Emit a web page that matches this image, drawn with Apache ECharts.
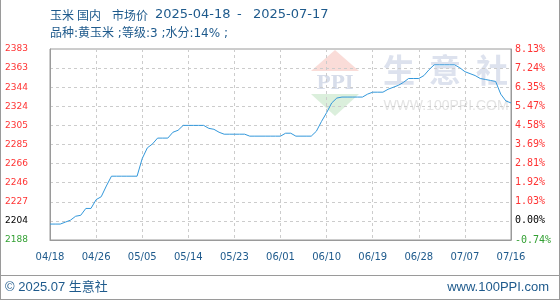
<!DOCTYPE html>
<html><head><meta charset="utf-8">
<script src="https://cdn.jsdelivr.net/npm/echarts@6/dist/echarts.min.js"></script>
<style>html,body{margin:0;padding:0;background:#fff}#c{width:560px;height:300px}</style>
</head><body><div id="c"></div>
<script>
const titleParts = ['玉米', '国内', '市场价', '2025-04-18', '-', '2025-07-17'];
const titleLine2 = '品种:黄玉米 ;等级:3 ;水分:14% ;';
const footerLeft = '© 2025.07 生意社';
const footerRight = 'www.100PPI.com';
const watermarkChars = ['生', '意', '社'];
const watermarkUrl = 'WWW.100PPI.COM';

const categories = [
  '04/18','04/19','04/20','04/21','04/22','04/23','04/24','04/25','04/26','04/27','04/28','04/29','04/30',
  '05/01','05/02','05/03','05/04','05/05','05/06','05/07','05/08','05/09','05/10','05/11','05/12','05/13','05/14','05/15','05/16','05/17','05/18','05/19','05/20','05/21','05/22','05/23','05/24','05/25','05/26','05/27','05/28','05/29','05/30','05/31',
  '06/01','06/02','06/03','06/04','06/05','06/06','06/07','06/08','06/09','06/10','06/11','06/12','06/13','06/14','06/15','06/16','06/17','06/18','06/19','06/20','06/21','06/22','06/23','06/24','06/25','06/26','06/27','06/28','06/29','06/30',
  '07/01','07/02','07/03','07/04','07/05','07/06','07/07','07/08','07/09','07/10','07/11','07/12','07/13','07/14','07/15','07/16','07/17'
];
const prices = [
  2204,2204,2204,2206,2208,2212,2213,2220,2220,2229,
  2232,2243,2253,2253,2253,2253,2253,2253,2271,2282,
  2286,2292,2292,2292,2298,2300,2305,2305,2305,2305,
  2305,2302,2301,2298,2296,2296,2296,2296,2296,2294,
  2294,2294,2294,2294,2294,2294,2297,2297,2294,2294,
  2294,2294,2299,2309,2318,2328,2333,2334,2334,2334,
  2334,2334,2337,2339,2339,2339,2342,2344,2346,2349,
  2353,2353,2353,2356,2362,2367,2367,2367,2367,2367,
  2364,2360,2358,2356,2353,2352,2351,2350,2337,2330,
  2328
];
const xTickLabels = ['04/18','04/26','05/05','05/14','05/23','06/01','06/10','06/19','06/28','07/07','07/16'];
const yTickValues = [2187.7, 2207.25, 2226.8, 2246.35, 2265.9, 2285.45, 2305.0, 2324.55, 2344.1, 2363.65, 2383.2];
const leftTickLabels = ['2188','2204','2227','2246','2266','2285','2305','2324','2344','2363','2383'];
const rightTickLabels = ['-0.74%','0.00%','1.03%','1.92%','2.81%','3.69%','4.58%','5.47%','6.35%','7.24%','8.13%'];

const frame = '#9a9a9a';
const gridColor = '#cccccc';
const blueText = '#1e5a8c';

function tickIndex(v) {
  let best = 0, d = Infinity;
  yTickValues.forEach((t, i) => { const e = Math.abs(t - v); if (e < d) { d = e; best = i; } });
  return best;
}
function styleKey(i) { return i === 0 ? 'g' : (i === 1 ? 'k' : 'r'); }

const chart = echarts.init(document.getElementById('c'), null, {renderer: 'canvas'});
const leftFont = {fontFamily: 'DejaVu Sans', fontSize: 9};
const rightFont = {fontFamily: 'DejaVu Sans Mono', fontSize: 10};
const cjkFont = '12px "Noto Sans CJK SC"';
const latinFont = '13px "DejaVu Sans"';
const titleX = [50, 77, 112, 155, 237, 253];
const titleGraphics = titleParts.map((t, i) => ({
  type: 'text', x: titleX[i], y: 15,
  style: {text: t, fill: blueText, font: i < 3 ? cjkFont : latinFont, textVerticalAlign: 'middle'}
}));
chart.setOption({
  animation: false,
  backgroundColor: '#ffffff',
  grid: {left: 50, right: 49, top: 49, bottom: 60, show: true, borderColor: frame, borderWidth: 1, backgroundColor: 'transparent'},
  xAxis: {
    type: 'category', data: categories, boundaryGap: false,
    axisLine: {lineStyle: {color: frame, width: 1}},
    axisTick: {show: false},
    axisLabel: {interval: 8, margin: 12, color: blueText, fontFamily: 'DejaVu Sans', fontSize: 10,
      formatter: (v, i) => (i % 9 === 0 ? xTickLabels[i / 9] : '')},
    splitLine: {show: true, interval: 8, lineStyle: {color: gridColor, type: [3, 3], width: 1}}
  },
  yAxis: [{
    type: 'value', min: yTickValues[0], max: yTickValues[yTickValues.length - 1], position: 'left',
    axisLine: {show: true, lineStyle: {color: frame}},
    axisTick: {show: false, customValues: yTickValues},
    axisLabel: {customValues: yTickValues, margin: 22, ...leftFont,
      formatter: v => { const i = tickIndex(v); return '{' + styleKey(i) + '|' + leftTickLabels[i] + '}'; },
      rich: {r: {color: '#ff3333', ...leftFont}, k: {color: '#000000', ...leftFont}, g: {color: '#33a033', ...leftFont}}},
    splitLine: {show: true, lineStyle: {color: gridColor, type: [3, 3], width: 1}}
  }, {
    type: 'value', min: yTickValues[0], max: yTickValues[yTickValues.length - 1], position: 'right',
    axisLine: {show: true, lineStyle: {color: frame}},
    axisTick: {show: false, customValues: yTickValues},
    axisLabel: {customValues: yTickValues, margin: 4, ...rightFont,
      formatter: v => { const i = tickIndex(v); return '{' + styleKey(i) + '|' + rightTickLabels[i] + '}'; },
      rich: {r: {color: '#ff3333', ...rightFont}, k: {color: '#000000', ...rightFont}, g: {color: '#33a033', ...rightFont}}},
    splitLine: {show: false}
  }],
  series: [{
    type: 'line', data: prices, yAxisIndex: 0, showSymbol: false, symbol: 'none', smooth: false, silent: true,
    lineStyle: {color: '#3398db', width: 1}, z: 5
  }],
  graphic: [
    {type: 'polygon', z: -10, silent: true, shape: {points: [[311, 71], [335, 50], [359, 71]]}, style: {fill: '#fadcd8'}},
    {type: 'text', z: -10, silent: true, x: 335, y: 84, style: {text: 'PPI', fill: '#d7ddea', font: 'bold 19px "DejaVu Serif"', textAlign: 'center', textVerticalAlign: 'middle'}},
    {type: 'polygon', z: -10, silent: true, shape: {points: [[311, 94], [359, 94], [335, 116]]}, style: {fill: '#dbefdc'}},
    {type: 'text', z: -10, silent: true, x: 399, y: 70, style: {text: watermarkChars[0], fill: '#dde2ee', font: 'bold 32px "Noto Sans CJK SC"', textAlign: 'center', textVerticalAlign: 'middle'}},
    {type: 'text', z: -10, silent: true, x: 445, y: 70, style: {text: watermarkChars[1], fill: '#dde2ee', font: 'bold 32px "Noto Sans CJK SC"', textAlign: 'center', textVerticalAlign: 'middle'}},
    {type: 'text', z: -10, silent: true, x: 492, y: 70, style: {text: watermarkChars[2], fill: '#dde2ee', font: 'bold 32px "Noto Sans CJK SC"', textAlign: 'center', textVerticalAlign: 'middle'}},
    {type: 'text', z: -10, silent: true, x: 446, y: 106, style: {text: watermarkUrl, fill: '#e4e4e4', font: '14px "Liberation Sans"', textAlign: 'center', textVerticalAlign: 'middle'}},
    ...titleGraphics,
    {type: 'text', x: 50, y: 34, style: {text: titleLine2, fill: blueText, font: '12px "DejaVu Sans", "Noto Sans CJK SC"', textVerticalAlign: 'middle'}},
    {type: 'line', shape: {x1: 0, y1: 275.5, x2: 560, y2: 275.5}, style: {stroke: frame, lineWidth: 1}},
    {type: 'text', x: 5, y: 287, style: {text: footerLeft, fill: blueText, font: '13px "Liberation Sans", "Noto Sans CJK SC"', textVerticalAlign: 'middle'}},
    {type: 'text', x: 549, y: 287, style: {text: footerRight, fill: blueText, font: '13px "Liberation Sans"', textAlign: 'right', textVerticalAlign: 'middle'}},
    {type: 'line', shape: {x1: 0.5, y1: 0, x2: 0.5, y2: 300}, style: {stroke: frame, lineWidth: 1}},
    {type: 'line', shape: {x1: 559.5, y1: 0, x2: 559.5, y2: 300}, style: {stroke: frame, lineWidth: 1}},
    {type: 'line', shape: {x1: 0, y1: 299.5, x2: 560, y2: 299.5}, style: {stroke: frame, lineWidth: 1}}
  ]
});
</script>
</body></html>
